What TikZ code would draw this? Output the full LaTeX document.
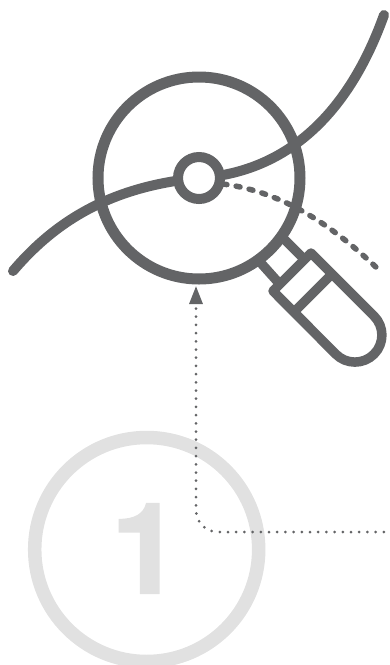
\documentclass[tikz,border=0pt]{standalone}
\usepackage{fontspec}
\setmainfont{TeX Gyre Heros}
\newfontfamily\numfont[FakeBold=1.6]{TeX Gyre Heros Bold}
\usetikzlibrary{arrows.meta}
\definecolor{ink}{HTML}{636466}
\definecolor{pale}{HTML}{E1E1E1}
\tikzset{
  outline/.style={draw=ink,line width=10pt,line join=round,line cap=round},
  dashline/.style={draw=ink,line width=5.5pt,line cap=round,dash pattern=on 4pt off 9.3pt},
  dotline/.style={draw=ink,line width=3pt,line cap=round,dash pattern=on 0pt off 8.2pt,rounded corners=22pt,-{Triangle[length=18pt,width=13pt,color=ink]}},
  ring/.style={draw=pale,line width=13.5pt,circle,minimum size=224pt,inner sep=0pt,outer sep=0pt},
}
\begin{document}
\begin{tikzpicture}[x=1pt,y=-1pt]
\useasboundingbox (0,0) rectangle (390,665);
\clip (0,0) rectangle (390,665);
% pale number
\node[ring] (badge) at (146.7,549.5) {};
\node[text=pale,font=\numfont\fontsize{126}{126}\selectfont,inner sep=0pt] (num) at (146,548.5) {1};
% leader
\coordinate (leadstart) at (392,532);
\coordinate (leadcorner) at (196,532);
\coordinate (leadtip) at (196,286);
\draw[dotline] (leadstart) -- (leadcorner) -- (leadtip);
% dashed alternative
\coordinate (dashA) at (223,184);
\coordinate (dashB) at (378,269);
\draw[dashline] (dashA) .. controls (285,192) and (335,228) .. (dashB);
% curve
\coordinate (curveA) at (13,271);
\coordinate (curveB) at (384,15);
\draw[outline] (curveA) .. controls (58,218) and (115,186) .. (199,178)
  .. controls (290,172) and (350,110) .. (curveB);
% lens
\node[circle,draw=ink,line width=11pt,minimum size=202pt,inner sep=0pt,outer sep=0pt] (lens) at (199,178) {};
% point
\node[circle,draw=ink,fill=white,line width=10pt,minimum size=42pt,inner sep=0pt,outer sep=0pt] (pt) at (199,178) {};
% handle
\draw[outline,line width=9.5pt] (285,240) -- (303,258) (260,262) -- (277,281);
\draw[outline,line width=9.5pt,fill=white] (311,253) -- (374,316) arc[start angle=-45,end angle=135,radius=27] -- (273,291) -- cycle;
\draw[outline,line width=9.5pt,line cap=butt] (332,274) -- (294,312);
\end{tikzpicture}
\end{document}
